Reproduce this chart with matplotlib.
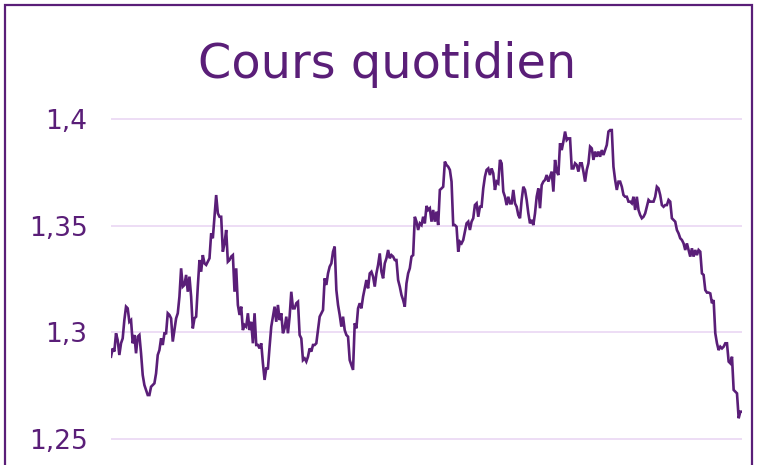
import matplotlib
matplotlib.use("Agg")
import matplotlib.pyplot as plt
from matplotlib.patches import Rectangle
import numpy as np

title = "Cours quotidien"
yticks = [1.25, 1.30, 1.35, 1.40]
ytick_labels = ["1,25", "1,3", "1,35", "1,4"]

prices_part1 = [
    1.2884, 1.2923, 1.2908, 1.2994, 1.2962, 1.2892, 1.2947, 1.2970, 1.3056, 1.3119,
    1.3111, 1.3048, 1.3056, 1.2947, 1.2986, 1.2900, 1.2978, 1.2986, 1.2900, 1.2798,
    1.2751, 1.2728, 1.2704, 1.2704, 1.2743, 1.2751, 1.2759, 1.2806, 1.2892, 1.2915,
    1.2970, 1.2939, 1.2994, 1.2994, 1.3088, 1.3080, 1.3064, 1.2955, 1.3009, 1.3064,
    1.3088, 1.3166, 1.3299, 1.3213, 1.3221, 1.3268, 1.3189, 1.3260, 1.3166, 1.3017,
    1.3064, 1.3072, 1.3213, 1.3338, 1.3283, 1.3361, 1.3322, 1.3315, 1.3330, 1.3346,
    1.3463, 1.3440, 1.3541, 1.3643, 1.3557, 1.3541, 1.3541, 1.3377, 1.3416, 1.3479,
    1.3330, 1.3338, 1.3354, 1.3361, 1.3189, 1.3299, 1.3127, 1.3080, 1.3119, 1.3009,
    1.3033, 1.3025, 1.3088, 1.3009, 1.3048, 1.2947, 1.3088, 1.2939, 1.2939, 1.2923,
    1.2947, 1.2853, 1.2775, 1.2829, 1.2829, 1.2931, 1.3025, 1.3072, 1.3119, 1.3048,
    1.3127, 1.3056, 1.3088, 1.2994, 1.3017, 1.3072, 1.2994, 1.3072, 1.3189, 1.3111,
    1.3111, 1.3135, 1.3142, 1.2986, 1.2970, 1.2868, 1.2876, 1.2861, 1.2884, 1.2923,
    1.2908, 1.2939, 1.2939, 1.2947, 1.3009, 1.3072,
]
prices_part2 = [
    1.3088, 1.3103, 1.3252, 1.3221, 1.3275, 1.3307, 1.3322, 1.3377, 1.3401, 1.3197,
    1.3127, 1.3080, 1.3025, 1.3072, 1.3009, 1.2986, 1.2978, 1.2868, 1.2845, 1.2822,
    1.3041, 1.3017, 1.3111, 1.3135, 1.3111, 1.3166, 1.3205, 1.3244, 1.3205, 1.3275,
    1.3283, 1.3260, 1.3213, 1.3275, 1.3315, 1.3369, 1.3283, 1.3252, 1.3322, 1.3346,
    1.3385, 1.3346, 1.3361, 1.3354, 1.3338, 1.3338, 1.3244, 1.3213, 1.3174, 1.3150,
    1.3119, 1.3228, 1.3275, 1.3299, 1.3354, 1.3361, 1.3541, 1.3518, 1.3479, 1.3510,
    1.3502, 1.3541, 1.3510, 1.3592, 1.3573, 1.3581, 1.3518, 1.3573, 1.3518, 1.3565,
    1.3502, 1.3667, 1.3674, 1.3682, 1.3800, 1.3784, 1.3776, 1.3761, 1.3706, 1.3502,
    1.3502, 1.3494, 1.3377, 1.3424, 1.3416, 1.3432, 1.3471, 1.3510, 1.3518, 1.3479,
    1.3518, 1.3534, 1.3596, 1.3604, 1.3541, 1.3588, 1.3588, 1.3674, 1.3729, 1.3761,
    1.3768, 1.3737, 1.3768, 1.3745, 1.3667, 1.3706, 1.3698, 1.3808, 1.3792, 1.3659,
    1.3635, 1.3596, 1.3635, 1.3604, 1.3604, 1.3667, 1.3604, 1.3588, 1.3549,
]
prices_part3 = [
    1.3534, 1.3620, 1.3682, 1.3667, 1.3620, 1.3557, 1.3510, 1.3526, 1.3502, 1.3557,
    1.3635, 1.3674, 1.3581, 1.3690, 1.3706, 1.3714, 1.3737, 1.3706, 1.3729, 1.3753,
    1.3659, 1.3808, 1.3753, 1.3737, 1.3886, 1.3854, 1.3894, 1.3941, 1.3901, 1.3909,
    1.3909, 1.3768, 1.3768, 1.3792, 1.3784, 1.3753, 1.3792, 1.3792, 1.3753, 1.3706,
    1.3761, 1.3792, 1.3870, 1.3862, 1.3808, 1.3847, 1.3823, 1.3847, 1.3823, 1.3854,
    1.3831, 1.3854, 1.3878, 1.3941, 1.3948, 1.3948, 1.3776, 1.3714, 1.3667, 1.3706,
    1.3706, 1.3682, 1.3643, 1.3635, 1.3635, 1.3612, 1.3612, 1.3604, 1.3635, 1.3573,
    1.3635, 1.3573, 1.3549, 1.3534, 1.3541, 1.3557, 1.3588, 1.3620, 1.3612, 1.3612,
    1.3612, 1.3635, 1.3682, 1.3674, 1.3643, 1.3596, 1.3588, 1.3596, 1.3596, 1.3620,
    1.3612, 1.3534, 1.3526, 1.3518, 1.3479, 1.3463, 1.3440, 1.3432, 1.3416, 1.3385,
    1.3416, 1.3385, 1.3354, 1.3393, 1.3354, 1.3385, 1.3361, 1.3385, 1.3377, 1.3275,
    1.3268, 1.3197, 1.3185, 1.3185, 1.3181, 1.3135, 1.3150, 1.2994, 1.2947, 1.2915,
    1.2931, 1.2923, 1.2931, 1.2947, 1.2947, 1.2861, 1.2853, 1.2884, 1.2728, 1.2720,
    1.2712, 1.2595, 1.2626, 1.2626,
]

prices = prices_part1 + prices_part2 + prices_part3
days = np.arange(len(prices))

purple = "#5a1e78"
grid_purple = "#ead7f4"

W, H = 762, 465
fig = plt.figure(figsize=(W / 100, H / 100), dpi=100)
fig.patch.set_facecolor("white")

ymin, ymax = 1.24, 1.41
px_per_unit = 2130.0
y_top_px = 119 - (ymax - 1.40) * px_per_unit
y_bot_px = 438.5 + (1.25 - ymin) * px_per_unit
x_left_px, x_right_px = 111, 742
ax = fig.add_axes([x_left_px / W, 1 - y_bot_px / H,
                   (x_right_px - x_left_px) / W, (y_bot_px - y_top_px) / H])
ax.set_facecolor("white")
ax.plot(days, prices, color=purple, linewidth=1.9, solid_joinstyle="miter")
ax.set_xlim(days[0], days[-1])
ax.set_ylim(ymin, ymax)
ax.set_yticks(yticks)
ax.set_yticklabels(ytick_labels)
ax.set_xticks([])
for s in ax.spines.values():
    s.set_visible(False)
ax.grid(axis="y", color=grid_purple, linewidth=1.2)
ax.set_axisbelow(True)
ax.tick_params(axis="y", length=0, pad=17, labelsize=19, labelcolor=purple)

fig.text(387 / W, 1 - 78 / H, title, ha="center", va="baseline",
         fontsize=34.5, color=purple)

border = Rectangle((5 / W, -0.2), (752 - 5) / W, 1.2 - 5 / H,
                   transform=fig.transFigure, fill=False,
                   edgecolor=purple, linewidth=1.6, clip_on=False)
fig.patches.append(border)

fig.savefig("out.png", dpi=100, facecolor="white")
